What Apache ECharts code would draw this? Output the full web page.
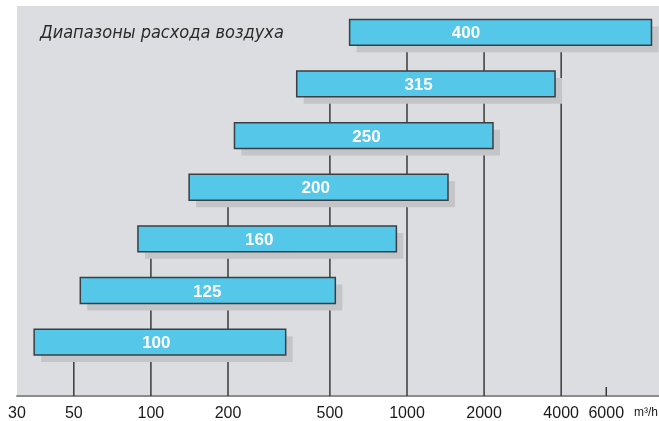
<!DOCTYPE html>
<html>
<head>
<meta charset="utf-8">
<script src="https://cdn.jsdelivr.net/npm/echarts@6/dist/echarts.min.js"></script>
<style>
  html, body { margin: 0; padding: 0; background: #fff; }
  #chart { width: 659px; height: 421px; }
</style>
</head>
<body>
<div id="chart"></div>
<script>
// диаметры и диапазоны расхода, м3/ч
const sizes = ['100', '125', '160', '200', '250', '315', '400']
const flowMin = [35, 53, 89, 141, 212, 371, 597]
const flowMax = [336, 525, 909, 1446, 2167, 3786, 9010]
const labelAt = [105, 166, 265, 440, 695, 1110, 1700]

// подписи оси X
const tickValues = [30, 50, 100, 200, 500, 1000, 2000, 4000, 6000]
const tickMarks = [6000]

// вертикальные линии: значение и индекс планки, до которой доходит линия
const guideFlow = [50, 100, 200, 500, 1000, 2000, 4000]
const guideUpTo = [0, 2, 3, 5, 6, 6, 6]

const Y_MIN = -1.042
const Y_MAX = 6.509

const chart = echarts.init(document.getElementById('chart'), null, { renderer: 'canvas' })

const option = {
  backgroundColor: '#ffffff',
  animation: false,
  title: {
    text: 'Диапазоны расхода воздуха',
    left: 35,
    top: 19,
    textStyle: {
      fontFamily: 'DejaVu Sans Condensed',
      fontStyle: 'italic',
      fontWeight: 'normal',
      fontSize: 18,
      color: '#2a2a2a'
    }
  },
  grid: {
    left: 17, right: 0, top: 6, bottom: 25,
    show: true,
    backgroundColor: '#dcdde0',
    borderWidth: 0
  },
  xAxis: {
    type: 'log',
    logBase: 10,
    min: 30,
    max: 9640,
    axisLine: { show: true, onZero: false, lineStyle: { color: '#8c8c8c', width: 2 } },
    axisTick: { show: false },
    axisLabel: { show: false },
    splitLine: { show: false }
  },
  yAxis: {
    type: 'value',
    min: Y_MIN,
    max: Y_MAX,
    show: false
  },
  graphic: [{
    type: 'text',
    right: 1,
    top: 407,
    style: {
      text: 'm³/h',
      fontFamily: 'Liberation Sans',
      fontSize: 12,
      fill: '#1a1a1a'
    }
  }],
  series: [
    {
      // вертикальные линии за планками
      type: 'custom',
      z: 1,
      data: guideFlow.map((v, i) => [v, guideUpTo[i]]),
      renderItem: (params, api) => {
        const top = api.coord([api.value(0), api.value(1)])
        const bottom = params.coordSys.y + params.coordSys.height
        return {
          type: 'line',
          shape: { x1: top[0], y1: bottom, x2: top[0], y2: top[1] },
          style: { stroke: '#3a3a3a', lineWidth: 1.5 }
        }
      }
    },
    {
      // короткая засечка 6000
      type: 'custom',
      z: 1,
      data: tickMarks.map(v => [v, Y_MIN]),
      renderItem: (params, api) => {
        const p = api.coord([api.value(0), api.value(1)])
        return {
          type: 'line',
          shape: { x1: p[0], y1: p[1], x2: p[0], y2: p[1] - 9 },
          style: { stroke: '#3a3a3a', lineWidth: 1.5 }
        }
      }
    },
    {
      // подписи оси
      type: 'custom',
      z: 2,
      clip: false,
      data: tickValues.map(v => [v, Y_MIN]),
      renderItem: (params, api) => {
        const p = api.coord([api.value(0), api.value(1)])
        return {
          type: 'text',
          style: {
            text: String(api.value(0)),
            x: p[0],
            y: p[1] + 18,
            align: 'center',
            verticalAlign: 'middle',
            fontFamily: 'Liberation Sans',
            fontSize: 16,
            fill: '#1a1a1a'
          }
        }
      }
    },
    {
      // планки диапазонов с тенью
      type: 'custom',
      z: 3,
      data: sizes.map((s, i) => [flowMin[i], flowMax[i], i, labelAt[i]]),
      renderItem: (params, api) => {
        const lo = api.coord([api.value(0), api.value(2)])
        const hi = api.coord([api.value(1), api.value(2)])
        const lab = api.coord([api.value(3), api.value(2)])
        const h = api.size([0, 0.5])[1]
        const w = hi[0] - lo[0]
        return {
          type: 'group',
          children: [
            {
              type: 'rect',
              shape: { x: lo[0] + 7, y: lo[1] - h / 2 + 7, width: w, height: h },
              style: { fill: '#c4c5c8' }
            },
            {
              type: 'rect',
              shape: { x: lo[0], y: lo[1] - h / 2, width: w, height: h },
              style: { fill: '#55c7e9', stroke: '#3b3e42', lineWidth: 1.5 }
            },
            {
              type: 'text',
              style: {
                text: sizes[params.dataIndex],
                x: lab[0],
                y: lab[1] + 1.5,
                align: 'center',
                verticalAlign: 'middle',
                fontFamily: 'Liberation Sans',
                fontWeight: 'bold',
                fontSize: 17,
                fill: '#ffffff'
              }
            }
          ]
        }
      }
    }
  ]
}

chart.setOption(option)
</script>
</body>
</html>
